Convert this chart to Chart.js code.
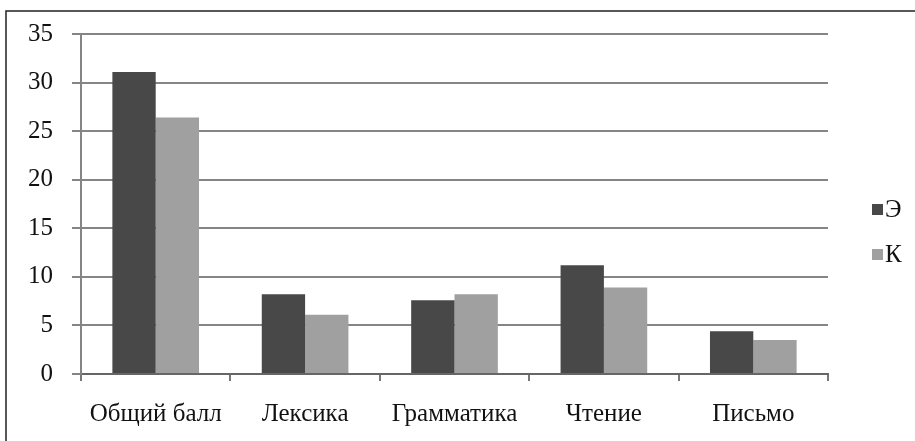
<!DOCTYPE html>
<html>
<head>
<meta charset="utf-8">
<script src="https://cdn.jsdelivr.net/npm/chart.js@4"></script>
<style>
    body { margin: 0; background: #fff; font-family: "Liberation Serif", "DejaVu Serif", serif; }
    canvas { display: block; }
</style>
</head>
<body>
<canvas id="myChart" width="915" height="441"></canvas>
<script>
var categories = ["Общий балл", "Лексика", "Грамматика", "Чтение", "Письмо"];
var seriesNames = ["Э", "К"];
var valuesE = [31.1, 8.2, 7.6, 11.2, 4.4];
var valuesK = [26.4, 6.1, 8.2, 8.9, 3.5];
var yTicks = [0, 5, 10, 15, 20, 25, 30, 35];
var barColors = ["#484848", "#a0a0a0"];

var fontFamily = '"Liberation Serif", "DejaVu Serif", serif';
var fontSize = 25;

// white page with the cropped frame on top and left
var framePlugin = {
    id: 'frame',
    beforeDraw: function (chart) {
        var ctx = chart.ctx;
        ctx.save();
        ctx.fillStyle = '#fff';
        ctx.fillRect(0, 0, chart.width, chart.height);
        ctx.strokeStyle = '#222';
        ctx.lineWidth = 1.5;
        ctx.beginPath();
        ctx.moveTo(6, chart.height);
        ctx.lineTo(6, 11);
        ctx.lineTo(chart.width, 11);
        ctx.stroke();
        ctx.restore();
    }
};

// small legend like the office one: square then the name
var legendPlugin = {
    id: 'smallLegend',
    afterDraw: function (chart) {
        var ctx = chart.ctx;
        ctx.save();
        ctx.font = fontSize + 'px ' + fontFamily;
        ctx.textBaseline = 'middle';
        chart.data.datasets.forEach(function (ds, i) {
            var cy = 209 + i * 45;
            ctx.fillStyle = ds.backgroundColor;
            ctx.fillRect(872, cy - 5, 11, 11);
            ctx.fillStyle = '#111';
            ctx.fillText(ds.label, 885, cy + 1);
        });
        ctx.restore();
    }
};

function drawChart() {
    new Chart("myChart", {
        type: "bar",
        data: {
            labels: categories,
            datasets: [{
                label: seriesNames[0],
                data: valuesE,
                backgroundColor: barColors[0]
            }, {
                label: seriesNames[1],
                data: valuesK,
                backgroundColor: barColors[1]
            }]
        },
        plugins: [framePlugin, legendPlugin],
        options: {
            responsive: false,
            animation: false,
            layout: {
                padding: { top: 34, left: 0, right: 87, bottom: 0 }
            },
            plugins: {
                legend: { display: false },
                tooltip: { enabled: false }
            },
            datasets: {
                bar: {
                    categoryPercentage: 0.58,
                    barPercentage: 1.0
                }
            },
            scales: {
                x: {
                    afterFit: function (scale) { scale.height = 67; },
                    grid: {
                        offset: true,
                        drawOnChartArea: false,
                        drawTicks: true,
                        tickLength: 7,
                        color: '#777',
                        lineWidth: 2
                    },
                    border: { color: '#666', width: 2 },
                    ticks: {
                        color: '#111',
                        padding: 18,
                        maxRotation: 0,
                        font: { family: fontFamily, size: fontSize }
                    }
                },
                y: {
                    min: 0,
                    max: 35,
                    afterFit: function (scale) { scale.width = 81; },
                    afterBuildTicks: function (scale) {
                        scale.ticks = yTicks.map(function (v) { return { value: v }; });
                    },
                    grid: {
                        color: '#858585',
                        lineWidth: 2,
                        tickLength: 9
                    },
                    border: { color: '#858585', width: 2 },
                    ticks: {
                        color: '#111',
                        padding: 19,
                        font: { family: fontFamily, size: fontSize }
                    }
                }
            }
        }
    });
}

if (document.fonts && document.fonts.load) {
    Promise.all([
        document.fonts.load(fontSize + 'px "Liberation Serif"', 'Общий 0123'),
        document.fonts.load(fontSize + 'px "DejaVu Serif"', 'Общий 0123')
    ]).then(drawChart, drawChart);
} else {
    drawChart();
}
</script>
</body>
</html>
